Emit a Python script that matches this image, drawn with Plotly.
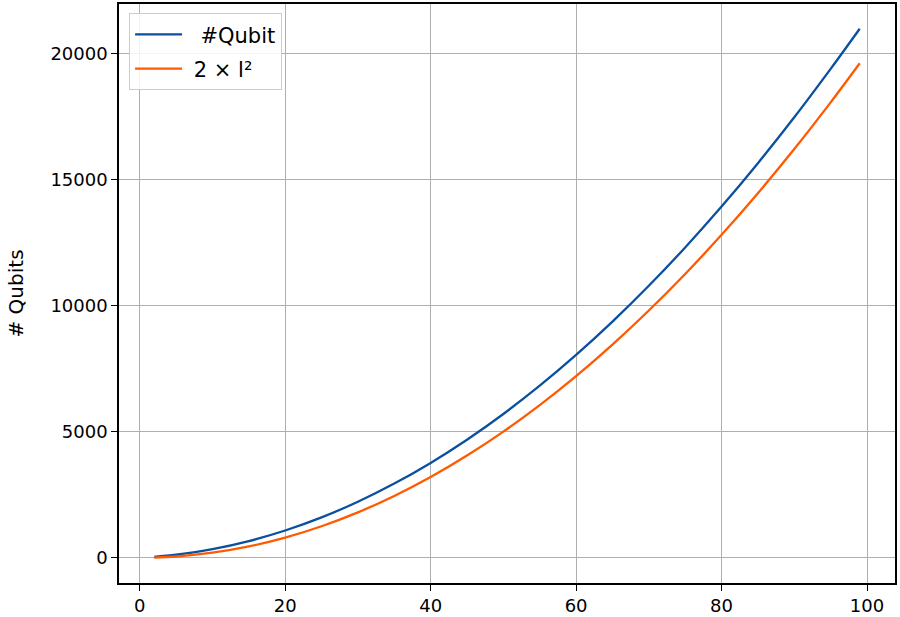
import plotly.graph_objects as go

# x values (l) at which the curves were read
l_values = [2, 5, 10, 15, 20, 25, 30, 35, 40, 45, 50, 55, 60, 65, 70, 75, 80, 85, 90, 95, 99]
# "#Qubit" series
qubit_values = [36, 120, 340, 660, 1080, 1600, 2220, 2940, 3760, 4680, 5700, 6820,
                8040, 9360, 10780, 12300, 13920, 15640, 17460, 19380, 20970]
# "2 × l²" series
two_l2_values = [8, 50, 200, 450, 800, 1250, 1800, 2450, 3200, 4050, 5000, 6050,
                 7200, 8450, 9800, 11250, 12800, 14450, 16200, 18050, 19602]

x_ticks = [0, 20, 40, 60, 80, 100]
y_ticks = [0, 5000, 10000, 15000, 20000]

BLUE = "#0a509f"
ORANGE = "#ff5a00"
FONT = "DejaVu Sans"

L, R, T, B = 119, 5, 4, 34
W, H = 900, 617
PW = W - L - R

fig = go.Figure()
fig.add_trace(go.Scatter(x=l_values, y=qubit_values, mode="lines", name="\u00a0\u00a0#Qubit",
                         legendgroup="a",
                         line=dict(color=BLUE, width=2.3, shape="spline")))
fig.add_trace(go.Scatter(x=l_values, y=two_l2_values, mode="lines", name="\u00a02 × l²",
                         legendgroup="b",
                         line=dict(color=ORANGE, width=2.3, shape="spline")))

axis_common = dict(
    showgrid=True, gridcolor="#b0b0b0", gridwidth=1.3,
    showline=True, linecolor="black", linewidth=1.5, mirror=True,
    ticks="outside", ticklen=6, tickwidth=1.3, tickcolor="black",
    zeroline=False, automargin=False,
    tickfont=dict(family=FONT, size=18, color="black"),
)

fig.update_xaxes(range=[-2.85, 103.85], tickvals=x_ticks, tickformat="d", **axis_common)
fig.update_yaxes(range=[-1000, 21950], tickvals=y_ticks, tickformat="d", **axis_common)

fig.add_annotation(text="# Qubits", xref="paper", yref="paper",
                   x=(15 - L) / PW, y=0.5, xanchor="center", yanchor="middle",
                   textangle=-90, showarrow=False,
                   font=dict(family=FONT, size=20, color="black"))

fig.update_layout(
    width=W, height=H,
    margin=dict(l=L, r=R, t=T, b=B),
    plot_bgcolor="white", paper_bgcolor="white",
    font=dict(family=FONT, size=18, color="black"),
    legend=dict(x=0.013, y=0.984, xanchor="left", yanchor="top",
                bgcolor="rgba(255,255,255,0.85)", bordercolor="#cccccc", borderwidth=1,
                font=dict(family=FONT, size=21, color="black"),
                itemwidth=47, tracegroupgap=4),
    showlegend=True,
)

fig.write_html("out.html",
               config={"displayModeBar": False},
               post_script="document.body.style.margin='0px';document.body.style.overflow='hidden';")
